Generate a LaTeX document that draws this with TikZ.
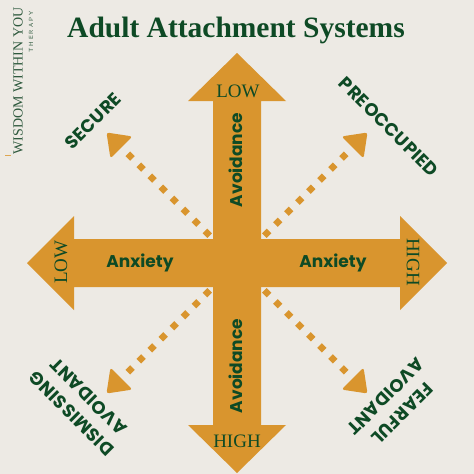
\documentclass[tikz,border=0pt]{standalone}
\usepackage{fontspec}
\setmainfont{Liberation Serif}
\newfontfamily\popfont{Poppins}
\newfontfamily\popsp{Poppins}[LetterSpace=3]
\usetikzlibrary{calc}
\definecolor{bg}{HTML}{EDEAE4}
\definecolor{org}{HTML}{D9952E}
\definecolor{grn}{HTML}{0E4A25}
\definecolor{logogrn}{HTML}{2F5A3E}
\begin{document}
\begin{tikzpicture}[x=1pt,y=-1pt,
  axislbl/.style={text=grn,font=\popfont\bfseries\fontsize{17}{17}\selectfont,inner sep=0pt},
  endlbl/.style={text=grn,font=\fontsize{19}{19}\selectfont,inner sep=0pt},
  stylelbl/.style={text=grn,font=\popsp\bfseries\fontsize{18}{24}\selectfont,inner sep=0pt,align=center},
  dots/.style={draw=org,line width=6.6pt,dash pattern=on 6.6pt off 9pt,dash phase=6.6pt},
  headfill/.style={fill=org,rounded corners=2.5pt}]
\fill[bg] (0,0) rectangle (474,474);
\useasboundingbox (0,0) rectangle (474,474);
\coordinate (c) at (237,263);
% diagonal dotted arrows
\foreach \sx/\sy/\n in {-1/-1/ul,1/-1/ur,-1/1/ll,1/1/lr}{
  \coordinate (t\n) at ($(c)+(\sx*130.5,\sy*130.5)$);
  \coordinate (b\n) at ($(c)+(\sx*115.6,\sy*115.6)$);
  \draw[dots] (b\n) -- (c);
  \fill[headfill] (t\n) -- ($(b\n)+(\sy*10.96,-\sx*10.96)$) -- ($(b\n)+(-\sy*10.96,\sx*10.96)$) -- cycle;
}
% cross
\fill[org] (213,101) -- (188,101) -- (237,53) -- (286,101) -- (261,101) -- (261,425) -- (286,425) -- (237,473) -- (188,425) -- (213,425) -- cycle;
\fill[org] (74,239) -- (74,216) -- (27,263) -- (74,310) -- (74,287) -- (400,287) -- (400,310) -- (447,263) -- (400,216) -- (400,239) -- cycle;
% title and logo
\node[text=grn,font=\bfseries\fontsize{29.5}{29.5}\selectfont,inner sep=0pt] (title) at (236,30) {Adult Attachment Systems};
\node[text=logogrn,font=\fontsize{14}{14}\selectfont,inner sep=0pt,rotate=90] (logo) at (18,81) {WISDOM WITHIN YOU};
\node[text=logogrn,font=\sffamily\fontsize{6}{6}\selectfont,inner sep=0pt,rotate=90] (therapy) at (31,32) {T\kern2pt H\kern2pt E\kern2pt R\kern2pt A\kern2pt P\kern2pt Y};
\draw[org!80!bg,line width=0.8pt] (5,155.5) -- (11,155.5);
% axis labels
\node[axislbl] (anxl) at (140,263) {Anxiety};
\node[axislbl] (anxr) at (333,263) {Anxiety};
\node[axislbl,rotate=90] (avot) at (236,160) {Avoidance};
\node[axislbl,rotate=90] (avob) at (236,366) {Avoidance};
\node[endlbl] (lowt) at (238,91) {LOW};
\node[endlbl] (highb) at (237,441) {HIGH};
\node[endlbl,rotate=90] (lowl) at (61,262) {LOW};
\node[endlbl,rotate=-90] (highr) at (413,262) {HIGH};
% style labels
\node[stylelbl,rotate=45] (secure) at (93,121) {SECURE};
\node[stylelbl,rotate=-45] (preocc) at (389,127) {PREOCCUPIED};
\node[stylelbl,rotate=135] (dismiss) at (80,405) {DISMISSING\\AVOIDANT};
\node[stylelbl,rotate=-135] (fearful) at (394,405) {FEARFUL\\AVOIDANT};
\end{tikzpicture}
\end{document}
